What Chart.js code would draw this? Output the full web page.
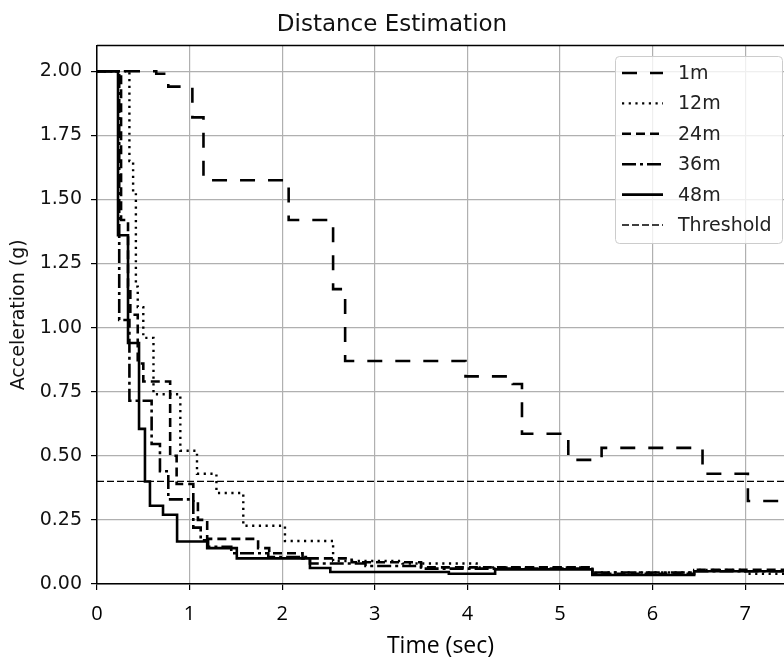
<!DOCTYPE html>
<html>
<head>
<meta charset="utf-8">
<script src="https://cdn.jsdelivr.net/npm/chart.js@4"></script>
<style>
  html, body { margin: 0; padding: 0; background: #fff; }
  #wrap { width: 784px; height: 662px; }
</style>
</head>
<body>
<div id="wrap"><canvas id="chart"></canvas></div>
<script>
// step series: each value holds from its time until the next time
const time1m = [0, 0.64, 0.77, 1.03, 1.15, 2.03, 2.07, 2.55, 2.68, 3.98, 4.49, 4.59, 5.09, 5.45, 6.54, 7.03, 7.6];
const acc1m  = [2.00, 1.99, 1.94, 1.82, 1.575, 1.55, 1.42, 1.15, 0.87, 0.81, 0.78, 0.586, 0.484, 0.531, 0.43, 0.324, 0.324];

const time12m = [0, 0.35, 0.39, 0.42, 0.44, 0.50, 0.61, 0.90, 1.08, 1.29, 1.58, 2.03, 2.55, 3.3, 4.1, 5.35, 6.45, 7.0, 7.6];
const acc12m  = [2.00, 1.65, 1.53, 1.16, 1.08, 0.96, 0.74, 0.52, 0.43, 0.355, 0.227, 0.168, 0.09, 0.08, 0.065, 0.045, 0.055, 0.04, 0.04];

const time24m = [0, 0.26, 0.335, 0.36, 0.44, 0.50, 0.79, 0.86, 1.04, 1.09, 1.19, 1.74, 1.86, 2.22, 2.75, 3.5, 5.35, 6.45, 7.6];
const acc24m  = [2.00, 1.42, 1.16, 1.05, 0.86, 0.79, 0.50, 0.39, 0.32, 0.25, 0.176, 0.14, 0.12, 0.10, 0.085, 0.065, 0.04, 0.055, 0.055];

const time36m = [0, 0.24, 0.35, 0.59, 0.68, 0.77, 1.04, 1.12, 1.20, 1.45, 1.85, 2.3, 2.9, 3.5, 4.3, 5.35, 6.45, 7.6];
const acc36m  = [2.00, 1.03, 0.715, 0.546, 0.44, 0.33, 0.22, 0.17, 0.145, 0.12, 0.105, 0.08, 0.07, 0.06, 0.06, 0.045, 0.05, 0.05];

const time48m = [0, 0.227, 0.335, 0.454, 0.518, 0.572, 0.713, 0.865, 1.19, 1.51, 2.30, 2.52, 3.8, 4.3, 5.35, 6.45, 7.6];
const acc48m  = [2.00, 1.36, 0.94, 0.605, 0.40, 0.305, 0.27, 0.166, 0.14, 0.10, 0.0625, 0.047, 0.04, 0.057, 0.035, 0.05, 0.05];

const thresholdTime = [0, 7.6];
const thresholdAcc = [0.4, 0.4];

const xTicks = [0, 1, 2, 3, 4, 5, 6, 7];
const yTicks = [0, 0.25, 0.5, 0.75, 1.0, 1.25, 1.5, 1.75, 2.0];

const pts = (t, a) => t.map((v, i) => ({ x: v, y: a[i] }));

Chart.defaults.font.family = '"DejaVu Sans"';
Chart.defaults.color = '#000';

const frameAndLegend = {
    id: 'frameAndLegend',
    afterDraw(chart) {
        const ctx = chart.ctx;
        const area = chart.chartArea;
        ctx.save();
        // top edge of the axes frame
        ctx.strokeStyle = '#000';
        ctx.lineWidth = 1.5;
        ctx.beginPath();
        ctx.moveTo(area.left, area.top);
        ctx.lineTo(area.right, area.top);
        ctx.stroke();

        // legend box
        ctx.fillStyle = 'rgba(255,255,255,0.8)';
        ctx.strokeStyle = '#cccccc';
        ctx.lineWidth = 1;
        ctx.beginPath();
        ctx.roundRect(615.5, 56.5, 167, 187, 4);
        ctx.fill();
        ctx.stroke();

        ctx.font = '19px "DejaVu Sans"';
        ctx.textBaseline = 'middle';
        chart.data.datasets.forEach((ds, i) => {
            const y = 73 + i * 30.4;
            ctx.strokeStyle = '#000';
            ctx.lineWidth = ds.borderWidth;
            ctx.setLineDash(ds.borderDash || []);
            ctx.beginPath();
            ctx.moveTo(622, y);
            ctx.lineTo(663, y);
            ctx.stroke();
            ctx.setLineDash([]);
            ctx.fillStyle = '#222';
            ctx.fillText(ds.label, 678, y + 1);
        });
        ctx.restore();
    }
};

const line = (label, t, a, dash, width) => ({
    label: label,
    data: pts(t, a),
    borderColor: '#000',
    borderWidth: width,
    borderDash: dash,
    stepped: 'before',
    pointRadius: 0,
    fill: false
});

new Chart(document.getElementById('chart').getContext('2d'), {
    type: 'line',
    data: {
        datasets: [
            line('1m', time1m, acc1m, [15, 13], 2.6),
            line('12m', time12m, acc12m, [2.2, 4.5], 2.4),
            line('24m', time24m, acc24m, [9, 5], 2.6),
            line('36m', time36m, acc36m, [14, 4, 3, 4], 2.6),
            line('48m', time48m, acc48m, [], 2.6),
            line('Threshold', thresholdTime, thresholdAcc, [7, 3], 1.3)
        ]
    },
    options: {
        responsive: true,
        maintainAspectRatio: false,
        animation: false,
        layout: { padding: { left: 0, right: 0, top: 0, bottom: 0 } },
        plugins: {
            legend: { display: false },
            tooltip: { enabled: false },
            title: {
                display: true,
                text: 'Distance Estimation',
                font: { size: 23, weight: 'normal' },
                color: '#111',
                padding: { top: 11, bottom: 7 }
            }
        },
        scales: {
            x: {
                type: 'linear',
                min: 0,
                max: 7.42,
                afterFit: s => { s.height = 78; },
                afterBuildTicks: s => { s.ticks = xTicks.map(v => ({ value: v })); },
                grid: { color: '#b0b0b0', lineWidth: 1.2, tickLength: 6, tickColor: '#000', tickWidth: 1.2 },
                border: { color: '#000', width: 1.5 },
                ticks: {
                    font: { family: '"Open Sans"', size: 20 },
                    color: '#000',
                    padding: 12,
                    maxRotation: 0,
                    callback: v => String(v)
                },
                title: {
                    display: true,
                    text: 'Time (sec)',
                    font: { family: '"Open Sans"', size: 23 },
                    color: '#000',
                    padding: { top: 0, bottom: 2 }
                }
            },
            y: {
                min: 0,
                max: 2.1,
                afterFit: s => { s.width = 97; },
                afterBuildTicks: s => { s.ticks = yTicks.map(v => ({ value: v })); },
                grid: { color: '#b0b0b0', lineWidth: 1.2, tickLength: 6, tickColor: '#000', tickWidth: 1.2 },
                border: { color: '#000', width: 1.5 },
                ticks: {
                    font: { size: 19 },
                    color: '#111',
                    padding: 9,
                    callback: v => Number(v).toFixed(2)
                },
                title: {
                    display: true,
                    text: 'Acceleration (g)',
                    font: { size: 19 },
                    color: '#111',
                    padding: { top: 8, bottom: 0 }
                }
            }
        }
    },
    plugins: [frameAndLegend]
});
</script>
</body>
</html>
